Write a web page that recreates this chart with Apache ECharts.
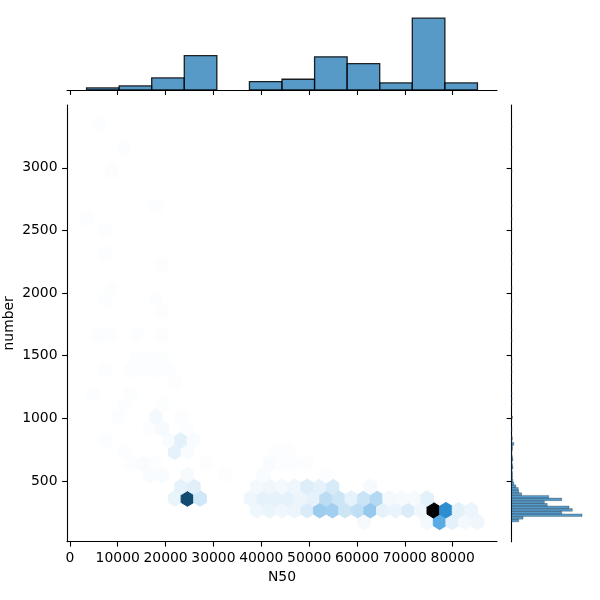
<!DOCTYPE html>
<html>
<head>
<meta charset="utf-8">
<script src="https://cdn.jsdelivr.net/npm/echarts@6/dist/echarts.min.js"></script>
<style>
html,body{margin:0;padding:0;background:#ffffff;}
#c{width:600px;height:600px;}
</style>
</head>
<body>
<div id="c"></div>
<script>
// ---------------- data ----------------
const xTicks = [0, 10000, 20000, 30000, 40000, 50000, 60000, 70000, 80000];
const yTicks = [500, 1000, 1500, 2000, 2500, 3000];

// marginal histogram of N50 (12 bins)
const n50HistEdges = [3486, 10293, 17100, 23907, 30714, 37522, 44329, 51136, 57943, 64750, 71557, 78364, 85171];
const n50HistCounts = [9, 18, 53, 150, 0, 37, 47, 145, 115, 31, 314, 31];

// marginal histogram of number: [lower edge, count], bin width below
const numberBinWidth = 21.12;
const numberHist = [
  [174.0, 15], [195.1, 24], [216.2, 146], [237.4, 104], [258.5, 126], [279.6, 119],
  [300.7, 74], [321.8, 68], [342.9, 104], [364.0, 77], [385.1, 21], [406.2, 15],
  [427.3, 14], [448.4, 9], [469.6, 5], [490.7, 3], [511.8, 2], [532.9, 2], [554.2, 2],
  [575.3, 1], [596.4, 3], [617.5, 2], [638.6, 1], [659.8, 3], [680.9, 2], [702.0, 1],
  [723.1, 1], [744.2, 2], [765.4, 2], [786.5, 5], [807.6, 1], [828.8, 2], [849.8, 1],
  [892.1, 1], [913.2, 1], [997.7, 2], [1103.3, 1], [1145.5, 1], [1187.8, 1], [1272.2, 1],
  [1356.7, 1], [1420.1, 1], [1462.3, 1], [1610.2, 1], [1694.6, 1], [1842.5, 1],
  [1927.0, 1], [2032.6, 1], [2222.6, 1], [2307.1, 1], [2497.2, 1], [2581.7, 1],
  [2687.3, 1], [2961.8, 1], [3152.0, 1], [3320.9, 1]
];

// hexbin cell size (data units) and cells: [N50 centre, number centre, count]
const hexCellN50 = 2635;
const hexCellNumber = 186.4;
const hexCells = [
  [61456,174,3],[74631,174,4],[77266,174,53],[79901,174,9],[82536,174,4],[85171,174,5],
  [39059,267,5],[41694,267,7],[44329,267,5],[46964,267,6],[49599,267,12],[52234,267,32],
  [54869,267,30],[57504,267,16],[60139,267,20],[62774,267,34],[65409,267,8],[68044,267,7],
  [70679,267,12],[73314,267,5],[75949,267,140],[78584,267,71],[81219,267,9],[83854,267,6],
  [21931,360,7],[24566,360,104],[27201,360,15],[37741,360,5],[40376,360,8],[43011,360,8],
  [45646,360,8],[48281,360,6],[50916,360,8],[53551,360,22],[56186,360,16],[58821,360,8],
  [61456,360,17],[64091,360,24],[66726,360,4],[69361,360,3],[71996,360,3],[74631,360,9],
  [23249,454,8],[25884,454,10],[39059,454,4],[41694,454,5],[44329,454,4],[46964,454,5],
  [49599,454,11],[52234,454,8],[54869,454,13],[62774,454,3],
  [16661,547,2],[19296,547,2],[24566,547,3],[32471,547,1],[40376,547,2],[53551,547,1],
  [12709,640,1],[15344,640,2],[17979,640,1],[28519,640,1],[41694,640,2],[44329,640,1],
  [46964,640,1],[49599,640,1],
  [11391,733,1],[21931,733,8],[24566,733,2],[43011,733,1],[45646,733,1],
  [7439,826,1],[20614,826,2],[23249,826,9],[25884,826,2],
  [16661,920,1],[19296,920,3],[24566,920,1],
  [10074,1013,1],[17979,1013,4],[23249,1013,1],
  [11391,1106,1],[19296,1106,1],
  [4804,1199,1],[12709,1199,1],
  [21931,1292,1],
  [7439,1386,1],[12709,1386,1],[15344,1386,1],[17979,1386,1],[20614,1386,1],
  [14026,1479,1],[16661,1479,1],[19296,1479,1],
  [6121,1665,1],[8756,1665,1],[14026,1665,1],[19296,1665,1],
  [19296,1852,1],
  [7439,1945,1],[17979,1945,1],
  [8756,2038,1],
  [19296,2224,1],
  [7439,2318,1],
  [7439,2504,1],
  [3486,2597,1],
  [17979,2690,1],
  [8756,2970,1],
  [11391,3156,1],
  [6121,3343,1]
];

// ---------------- colour map (seaborn hex cmap from C0) ----------------
function rgbToHls(r, g, b) {
  const mx = Math.max(r, g, b), mn = Math.min(r, g, b);
  const l = (mx + mn) / 2;
  if (mx === mn) return [0, l, 0];
  const s = l <= 0.5 ? (mx - mn) / (mx + mn) : (mx - mn) / (2 - mx - mn);
  const rc = (mx - r) / (mx - mn), gc = (mx - g) / (mx - mn), bc = (mx - b) / (mx - mn);
  let h;
  if (r === mx) h = bc - gc; else if (g === mx) h = 2 + rc - bc; else h = 4 + gc - rc;
  h = ((h / 6) % 1 + 1) % 1;
  return [h, l, s];
}
function vv(m1, m2, h) {
  h = ((h % 1) + 1) % 1;
  if (h < 1 / 6) return m1 + (m2 - m1) * h * 6;
  if (h < 0.5) return m2;
  if (h < 2 / 3) return m1 + (m2 - m1) * (2 / 3 - h) * 6;
  return m1;
}
function hlsToRgb(h, l, s) {
  if (s === 0) return [l, l, l];
  const m2 = l <= 0.5 ? l * (1 + s) : l + s - l * s;
  const m1 = 2 * l - m2;
  return [vv(m1, m2, h + 1 / 3), vv(m1, m2, h), vv(m1, m2, h - 1 / 3)];
}
const baseHls = rgbToHls(31 / 255, 119 / 255, 180 / 255);
const stops = [];
for (let i = 0; i < 12; i++) {
  const l = 1 - i / 11;
  stops.push(hlsToRgb(baseHls[0], l, baseHls[2]));
}
function cmap(t) {
  t = Math.max(0, Math.min(1, t));
  const p = t * 11;
  const i = Math.min(10, Math.floor(p));
  const f = p - i;
  const a = stops[i], b = stops[i + 1];
  const c = [0, 1, 2].map(k => Math.round((a[k] + (b[k] - a[k]) * f) * 255));
  return 'rgb(' + c.join(',') + ')';
}
const maxCount = Math.max(...hexCells.map(c => c[2]));

// ---------------- derived series data ----------------
const n50HistData = [];
for (let i = 0; i < n50HistCounts.length; i++) {
  if (n50HistCounts[i] > 0) n50HistData.push([n50HistEdges[i], n50HistEdges[i + 1], n50HistCounts[i]]);
}
const numberHistData = numberHist.map(b => [b[0], b[0] + numberBinWidth, b[1]]);
const n50HistMax = Math.max(...n50HistCounts);
const numberHistMax = Math.max(...numberHist.map(b => b[1]));

const xMinData = Math.min(...hexCells.map(c => c[0]));
const xMaxData = Math.max(...hexCells.map(c => c[0]));
const yMinData = Math.min(...hexCells.map(c => c[1]));
const yMaxData = Math.max(...hexCells.map(c => c[1]));
const xPad = (xMaxData - xMinData) * 0.05;
const yPad = (yMaxData - yMinData) * 0.05;
const X_MIN = xMinData - xPad, X_MAX = xMaxData + xPad;
const Y_MIN = yMinData - yPad, Y_MAX = yMaxData + yPad;

const HEX_SHAPE = [[0.5, -0.5], [0.5, 0.5], [0, 1], [-0.5, 0.5], [-0.5, -0.5], [0, -1]];

const FONT = 'DejaVu Sans';
const black = '#000000';
const axisLineStyle = { color: black, width: 1.1 };
const plainNum = v => String(v);

const chart = echarts.init(document.getElementById('c'), null, { renderer: 'canvas', width: 600, height: 600 });

const gridBase = { containLabel: false, outerBoundsMode: 'none' };

chart.setOption({
  backgroundColor: '#ffffff',
  animation: false,
  textStyle: { fontFamily: FONT },
  grid: [
    Object.assign({ left: 67, top: 105, width: 430, height: 436.7 }, gridBase),
    Object.assign({ left: 67, top: 14.6, width: 430, height: 75.4 }, gridBase),
    Object.assign({ left: 511.5, top: 105, width: 74.1, height: 436.7 }, gridBase)
  ],
  xAxis: [
    {
      gridIndex: 0, type: 'value', min: X_MIN, max: X_MAX,
      axisLine: { show: true, onZero: false, lineStyle: axisLineStyle },
      axisTick: { show: true, length: 4.9, customValues: xTicks, lineStyle: axisLineStyle },
      axisLabel: { show: true, customValues: xTicks, formatter: plainNum, hideOverlap: false,
        showMinLabel: true, showMaxLabel: true,
        color: black, fontSize: 13.9, fontFamily: FONT, margin: 9.5 },
      splitLine: { show: false },
      name: 'N50', nameLocation: 'middle', nameGap: 29,
      nameTextStyle: { color: black, fontSize: 13.9, fontFamily: FONT }
    },
    {
      gridIndex: 1, type: 'value', min: X_MIN, max: X_MAX,
      axisLine: { show: true, onZero: false, lineStyle: axisLineStyle },
      axisTick: { show: true, length: 4.9, customValues: xTicks, lineStyle: axisLineStyle },
      axisLabel: { show: false },
      splitLine: { show: false }
    },
    {
      gridIndex: 2, type: 'value', min: 0, max: numberHistMax * 1.05, show: false,
      splitLine: { show: false }
    }
  ],
  yAxis: [
    {
      gridIndex: 0, type: 'value', min: Y_MIN, max: Y_MAX,
      axisLine: { show: true, onZero: false, lineStyle: axisLineStyle },
      axisTick: { show: true, length: 4.9, customValues: yTicks, lineStyle: axisLineStyle },
      axisLabel: { show: true, customValues: yTicks, formatter: plainNum, hideOverlap: false,
        color: black, fontSize: 13.9, fontFamily: FONT, margin: 9.5 },
      splitLine: { show: false },
      name: 'number', nameLocation: 'middle', nameGap: 58, nameRotate: 90,
      nameMoveOverlap: false,
      nameTextStyle: { color: black, fontSize: 13.9, fontFamily: FONT, verticalAlign: 'middle' }
    },
    {
      gridIndex: 1, type: 'value', min: 0, max: n50HistMax * 1.05, show: false,
      splitLine: { show: false }
    },
    {
      gridIndex: 2, type: 'value', min: Y_MIN, max: Y_MAX,
      axisLine: { show: true, onZero: false, lineStyle: axisLineStyle },
      axisTick: { show: true, length: 4.9, customValues: yTicks, lineStyle: axisLineStyle },
      axisLabel: { show: false },
      splitLine: { show: false }
    }
  ],
  series: [
    {
      type: 'custom', xAxisIndex: 0, yAxisIndex: 0, clip: true,
      data: hexCells,
      renderItem: function (params, api) {
        const x = api.value(0), y = api.value(1), n = api.value(2);
        const pts = HEX_SHAPE.map(p => api.coord([x + p[0] * hexCellN50, y + p[1] * hexCellNumber / 3]));
        const col = cmap(n / maxCount);
        return { type: 'polygon', shape: { points: pts }, style: { fill: col, stroke: col, lineWidth: 1 } };
      }
    },
    {
      type: 'custom', xAxisIndex: 1, yAxisIndex: 1,
      data: n50HistData,
      renderItem: function (params, api) {
        const p0 = api.coord([api.value(0), 0]);
        const p1 = api.coord([api.value(1), api.value(2)]);
        return {
          type: 'rect',
          shape: { x: p0[0], y: p1[1], width: p1[0] - p0[0], height: p0[1] - p1[1] },
          style: { fill: 'rgba(31,119,180,0.75)', stroke: 'rgba(0,0,0,0.85)', lineWidth: 1.3 }
        };
      }
    },
    {
      type: 'custom', xAxisIndex: 2, yAxisIndex: 2,
      data: numberHistData,
      renderItem: function (params, api) {
        const p0 = api.coord([0, api.value(0)]);
        const p1 = api.coord([api.value(2), api.value(1)]);
        return {
          type: 'rect',
          shape: { x: p0[0], y: p1[1], width: p1[0] - p0[0], height: p0[1] - p1[1] },
          style: { fill: 'rgba(31,119,180,0.75)', stroke: 'rgba(0,0,0,0.75)', lineWidth: 0.3 }
        };
      }
    }
  ]
});
</script>
</body>
</html>
